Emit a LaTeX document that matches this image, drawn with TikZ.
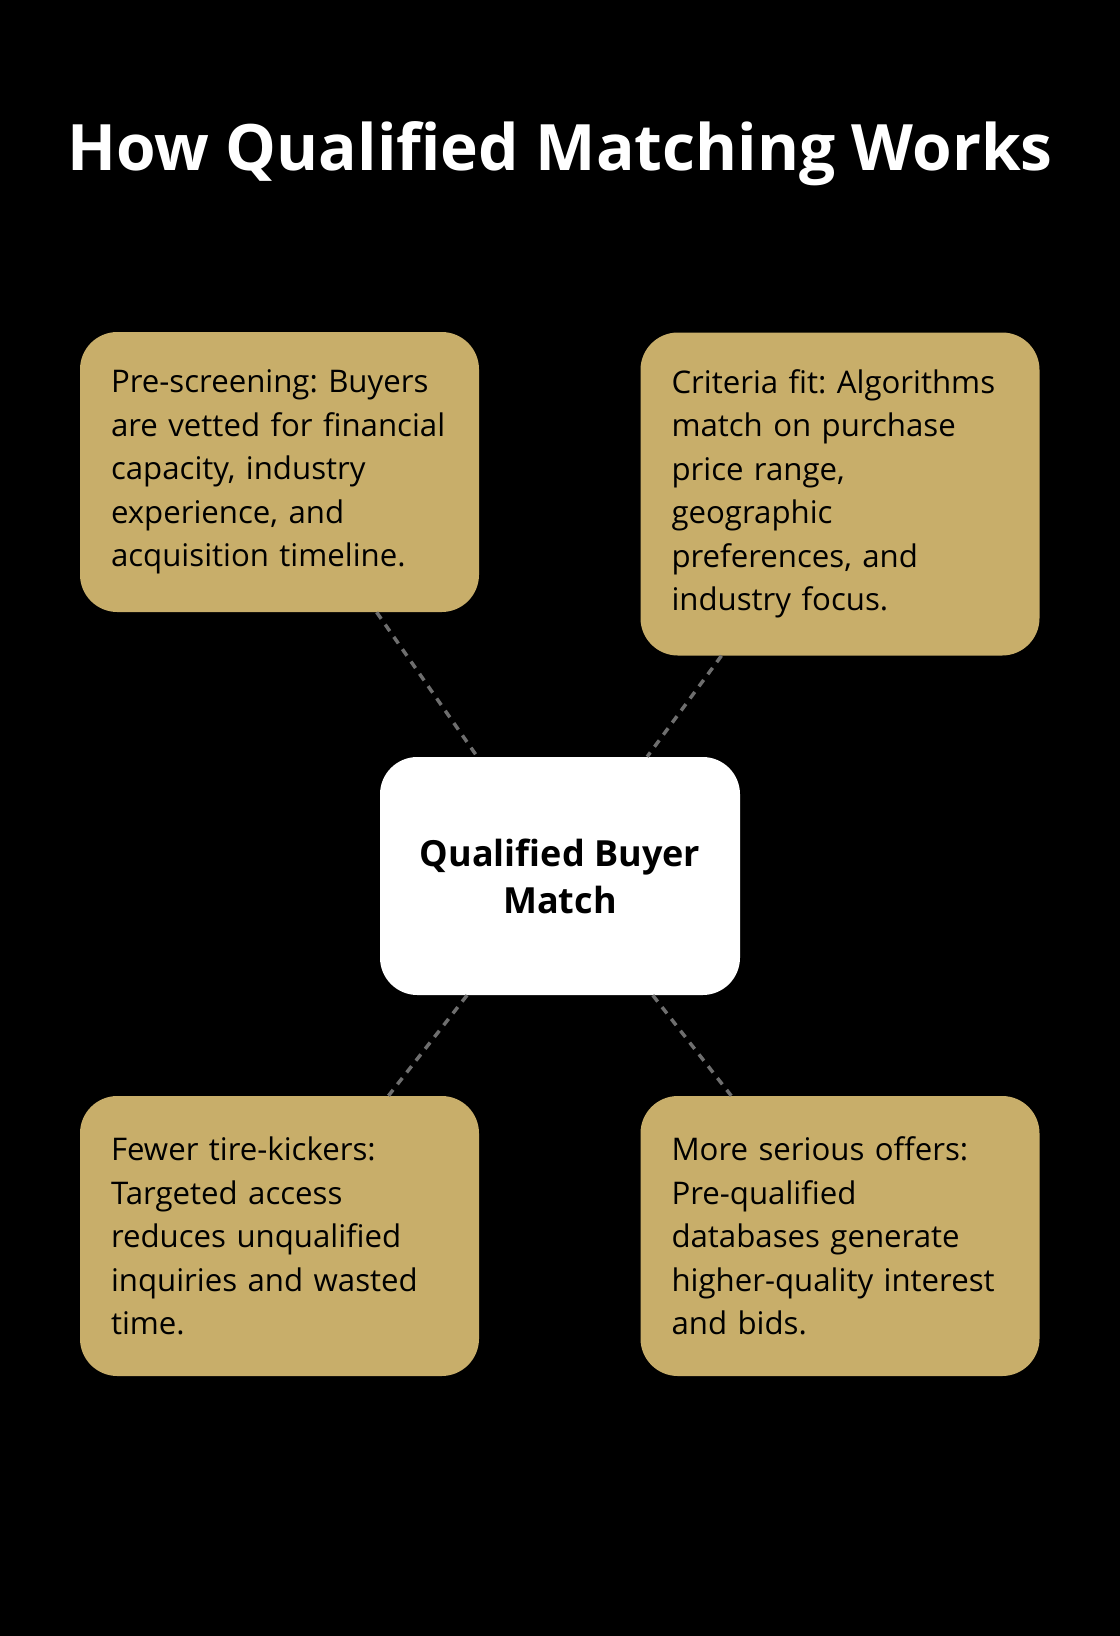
\documentclass[tikz,border=0pt]{standalone}
\usepackage{fontspec}
\setmainfont{Open Sans}
\definecolor{gold}{HTML}{C8AE6A}
\definecolor{linegray}{HTML}{6E6E6E}
\begin{document}
\frenchspacing
\begin{tikzpicture}[x=0.75pt, y=-0.75pt]
\tikzstyle{card}=[rectangle, rounded corners=28pt, fill=gold, text=black, align=left, text width=252.75pt, inner xsep=23.25pt, font=\fontsize{23.4}{32.6}\selectfont]
\tikzstyle{link}=[draw=linegray, line width=2.6pt, dash pattern=on 6pt off 5.25pt]
    \fill[black] (0,0) rectangle (1120,1636);
    \node [white, font=\bfseries\fontsize{48}{58}\selectfont] (t) at (560,154) {How Qualified Matching Works};
    \node [rectangle, rounded corners=28pt, fill=white, align=center, minimum width=270pt, minimum height=178.5pt, font=\bfseries\fontsize{27}{35.2}\selectfont] (m) at (560,876) {Qualified Buyer\\Match};
    \node [card, minimum height=210pt] (s) at (279.5,472) {Pre-screening: Buyers\\are vetted for financial\\capacity, industry\\experience, and\\acquisition timeline.};
    \node [card, minimum height=242.25pt] (f) at (840,494) {Criteria fit: Algorithms\\match on purchase\\price range,\\geographic\\preferences, and\\industry focus.};
    \node [card, minimum height=210pt] (k) at (279.5,1236) {Fewer tire-kickers:\\Targeted access\\reduces unqualified\\inquiries and wasted\\time.};
    \node [card, minimum height=210pt] (o) at (840,1236) {More serious offers:\\Pre-qualified\\databases generate\\higher-quality interest\\and bids.};
    \draw [link] (s) -- (m);
    \draw [link] (f) -- (m);
    \draw [link] (m) -- (k);
    \draw [link] (m) -- (o);
\end{tikzpicture}
\end{document}
